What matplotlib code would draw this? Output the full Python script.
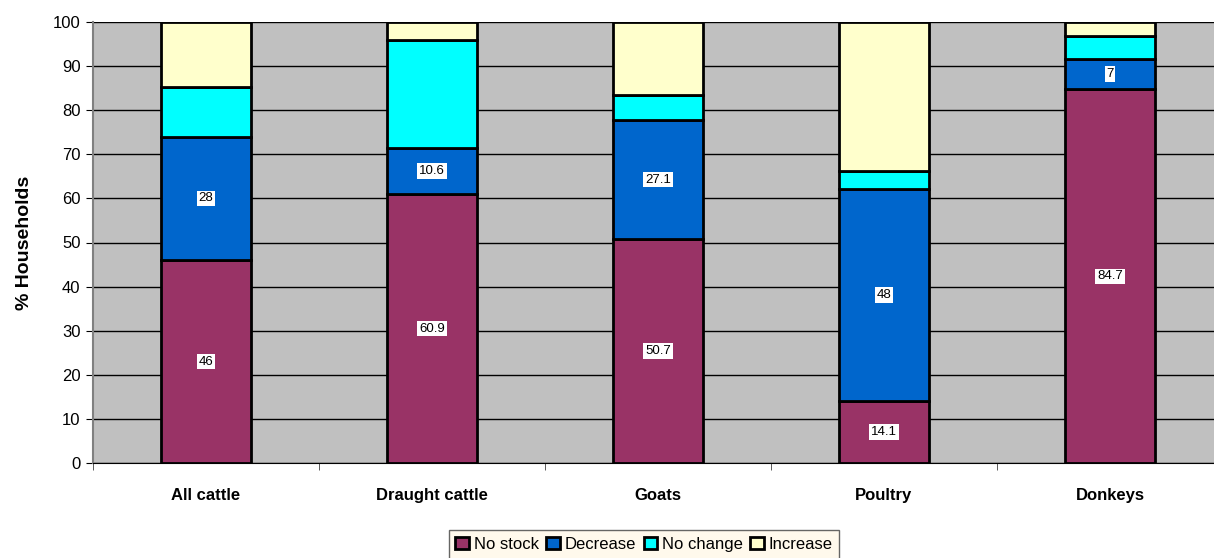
import matplotlib
matplotlib.use("Agg")
import matplotlib.pyplot as plt
import numpy as np

plt.rcParams['font.family'] = ['Liberation Sans', 'DejaVu Sans']

categories = ["All cattle", "Draught cattle", "Goats", "Poultry", "Donkeys"]
series_names = ["No stock", "Decrease", "No change", "Increase"]
no_stock = [46, 60.9, 50.7, 14.1, 84.7]
decrease = [28, 10.6, 27.1, 48, 7]
no_change = [11.2, 24.4, 5.6, 4.1, 5.2]
increase = [14.8, 4.1, 16.6, 33.8, 3.1]
colors = ["#993366", "#0066CC", "#00FFFF", "#FFFFCC"]
labelled = [True, True, False, False]

fig = plt.figure(figsize=(12.14, 5.58), dpi=100)
ax = fig.add_axes([93/1214, 1 - 463/558, 1130/1214, (463 - 22)/558])
ax.set_facecolor("#C0C0C0")

x = np.arange(len(categories))
bottom = np.zeros(len(categories))
for name, vals, col, lab in zip(series_names, [no_stock, decrease, no_change, increase], colors, labelled):
    vals = np.array(vals)
    ax.bar(x, vals, 0.4, bottom=bottom, color=col, edgecolor="black",
           linewidth=2, label=name, zorder=3)
    if lab:
        for xi, b, v in zip(x, bottom, vals):
            ax.text(xi, b + v / 2, f"{v:g}", ha="center", va="center", fontsize=9.5,
                    zorder=4, bbox=dict(facecolor="white", edgecolor="none", pad=1.2))
    bottom += vals

ax.set_xlim(-0.5, 4.5)
ax.set_ylim(0, 100)
ax.set_yticks(np.arange(0, 101, 10))
ax.tick_params(axis="y", labelsize=12, length=5, direction="out", pad=4)
ax.yaxis.grid(True, color="black", linewidth=1, zorder=0)
ax.set_axisbelow(True)

ax.set_xticks(x)
ax.set_xticklabels(categories, fontsize=12, fontweight="bold")
ax.tick_params(axis="x", length=0, pad=18)
ax.set_xticks(np.arange(-0.5, 5, 1), minor=True)
ax.tick_params(axis="x", which="minor", length=5, direction="out", color="#404040")

for s in ["top", "right"]:
    ax.spines[s].set_visible(False)
ax.spines["left"].set_color("#808080")
ax.spines["left"].set_linewidth(1.5)
ax.spines["bottom"].set_color("black")

ax.set_ylabel("% Households", fontsize=14, fontweight="bold", labelpad=14)

leg = fig.legend(loc="upper center", bbox_to_anchor=(644/1214, 1 - 530/558), ncol=4,
                 frameon=True, fancybox=False, fontsize=12, handlelength=0.8,
                 handleheight=0.8, handletextpad=0.3, columnspacing=0.45,
                 borderpad=0.4, borderaxespad=0, edgecolor="#404040")
leg.get_frame().set_facecolor("#FFF8E8")
leg.get_frame().set_linewidth(1)

fig.savefig("out.png", dpi=100)
